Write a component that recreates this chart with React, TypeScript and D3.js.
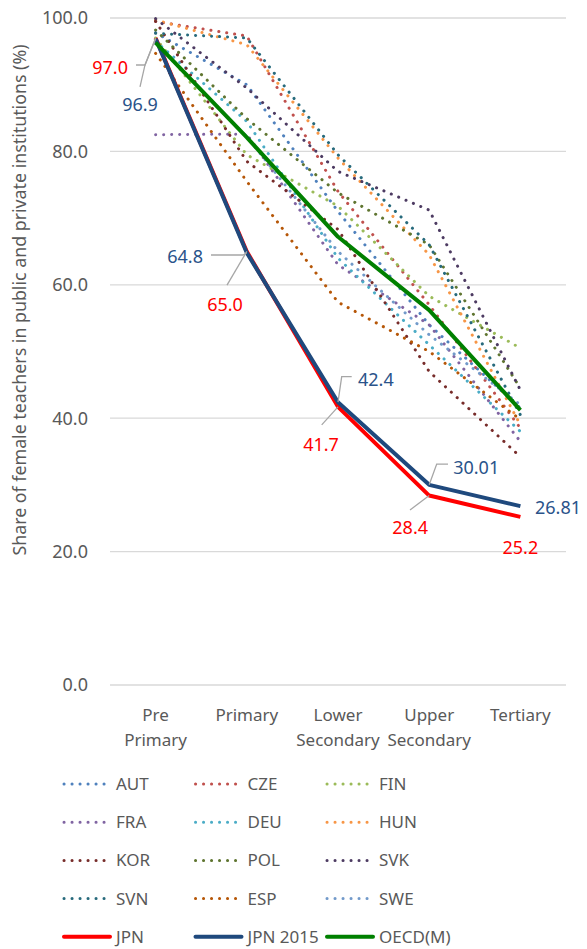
import React, { useRef, useEffect } from 'react';
import * as d3 from 'd3';

const categories = ['Pre Primary', 'Primary', 'Lower Secondary', 'Upper Secondary', 'Tertiary'];
const yTicks = [0, 20, 40, 60, 80, 100];

// share of female teachers (%)
const aut = [97.8, 90.0, 71.0, 54.0, 41.5];
const cze = [99.5, 97.3, 74.0, 57.0, 38.5];
const fin = [97.0, 79.5, 71.8, 58.3, 50.5];
const fra = [82.5, 82.6, 63.0, 54.0, 36.5];
const deu = [96.5, 84.5, 64.0, 51.0, 38.0];
const hun = [99.7, 96.0, 79.0, 64.5, 39.0];
const kor = [99.5, 78.5, 68.3, 47.0, 34.2];
const pol = [98.2, 84.9, 73.8, 66.0, 44.5];
const svk = [99.9, 89.5, 77.0, 71.2, 44.2];
const svn = [97.7, 97.0, 79.5, 66.0, 40.5];
const esp = [94.7, 75.5, 57.4, 50.0, 39.8];
const swe = [96.2, 82.2, 65.0, 52.5, 42.0];
const jpn = [97.0, 65.0, 41.7, 28.4, 25.2];
const jpn2015 = [96.9, 64.8, 42.4, 30.01, 26.81];
const oecd = [96.3, 82.1, 67.2, 56.2, 41.2];

const series = [
  { name: 'AUT', values: aut, color: '#4F81BD', dotted: true },
  { name: 'CZE', values: cze, color: '#C0504D', dotted: true },
  { name: 'FIN', values: fin, color: '#9BBB59', dotted: true },
  { name: 'FRA', values: fra, color: '#8064A2', dotted: true },
  { name: 'DEU', values: deu, color: '#4BACC6', dotted: true },
  { name: 'HUN', values: hun, color: '#F79646', dotted: true },
  { name: 'KOR', values: kor, color: '#772C2A', dotted: true },
  { name: 'POL', values: pol, color: '#5F7530', dotted: true },
  { name: 'SVK', values: svk, color: '#4D3B62', dotted: true },
  { name: 'SVN', values: svn, color: '#276A7C', dotted: true },
  { name: 'ESP', values: esp, color: '#B65708', dotted: true },
  { name: 'SWE', values: swe, color: '#729ACA', dotted: true },
  { name: 'JPN', values: jpn, color: '#FF0000', dotted: false },
  { name: 'JPN 2015', values: jpn2015, color: '#1F497D', dotted: false },
  { name: 'OECD(M)', values: oecd, color: '#008000', dotted: false },
];

// label placement relative to its point: text offset, anchor, leader path offsets
const jpnLabels = [
  { dx: -27.6, dy: 36, anchor: 'end', leader: [[-10.6, 27], [-19.6, 27]] },
  { dx: -21.8, dy: 59.6, anchor: 'middle', leader: [[-19.8, 33.6]] },
  { dx: -17, dy: 44, anchor: 'middle', leader: [[-16.3, 18]] },
  { dx: -19, dy: 38.4, anchor: 'middle', leader: [[-19.2, 14.4]] },
  { dx: 0, dy: 37, anchor: 'middle', leader: [] },
];
const jpn2015Labels = [
  { dx: -15.6, dy: 72, anchor: 'middle', leader: [[-10.6, 26.3], [-15.6, 48.3]] },
  { dx: -43.8, dy: 10, anchor: 'end', leader: [[-3.8, 2.2], [-35.8, 2.2]] },
  { dx: 20, dy: -16, anchor: 'start', leader: [[3.7, -25.5], [13.7, -25.5]] },
  { dx: 24, dy: -10.8, anchor: 'start', leader: [[7.5, -20.8], [18.8, -20.8]] },
  { dx: 14.6, dy: 8, anchor: 'start', leader: [] },
];

const FONT = '"Noto Sans", sans-serif';
const GREY = '#595959';

const App = () => {
  const ref = useRef(null);

  useEffect(() => {
    const svg = d3.select(ref.current);
    svg.selectAll('*').remove();

    const width = 587;
    const height = 949;
    svg.attr('width', width).attr('height', height);

    const x = d3.scaleBand().domain(categories).range([110, 566]);
    const y = d3.scaleLinear().domain([0, 100]).range([685, 18]);
    const cx = (i: number) => (x(categories[i]) as number) + x.bandwidth() / 2;

    // gridlines
    svg
      .append('g')
      .selectAll('line')
      .data(yTicks)
      .enter()
      .append('line')
      .attr('x1', 110)
      .attr('x2', 566)
      .attr('y1', (d) => y(d))
      .attr('y2', (d) => y(d))
      .attr('stroke', '#D9D9D9')
      .attr('stroke-width', 1.3);

    // y tick labels
    svg
      .append('g')
      .selectAll('text')
      .data(yTicks)
      .enter()
      .append('text')
      .text((d) => d.toFixed(1))
      .attr('x', 88)
      .attr('y', (d) => y(d))
      .attr('dy', '0.35em')
      .attr('text-anchor', 'end')
      .attr('font-size', 18)
      .attr('fill', GREY)
      .style('font-family', FONT);

    // y axis title
    svg
      .append('text')
      .text('Share of female teachers in public and private institutions (%)')
      .attr('transform', 'translate(26,300) rotate(-90)')
      .attr('text-anchor', 'middle')
      .attr('font-size', 17.8)
      .attr('fill', GREY)
      .style('font-family', FONT);

    // x labels (wrapped)
    const xl = svg
      .append('g')
      .selectAll('text')
      .data(categories)
      .enter()
      .append('text')
      .attr('text-anchor', 'middle')
      .attr('font-size', 17)
      .attr('fill', GREY)
      .style('font-family', FONT);
    xl.each(function (d, i) {
      d3.select(this)
        .selectAll('tspan')
        .data(d.split(' '))
        .enter()
        .append('tspan')
        .attr('x', cx(i))
        .attr('y', (_, j) => 721 + j * 25)
        .text((t) => t);
    });

    // lines
    const line = d3
      .line<number>()
      .x((_, i) => cx(i))
      .y((d) => y(d));

    svg
      .append('g')
      .selectAll('path')
      .data(series)
      .enter()
      .append('path')
      .attr('d', (s) => line(s.values))
      .attr('fill', 'none')
      .attr('stroke', (s) => s.color)
      .attr('stroke-width', (s) => (s.dotted ? 3 : 4))
      .attr('stroke-linecap', (s) => (s.dotted ? 'round' : 'butt'))
      .attr('stroke-linejoin', 'round')
      .attr('stroke-dasharray', (s) => (s.dotted ? '0.1 7.9' : null));

    // data labels with leader lines
    const addLabels = (vals: number[], layout: typeof jpnLabels, color: string, fmt: (v: number) => string) => {
      const g = svg.append('g');
      vals.forEach((v, i) => {
        const px = cx(i);
        const py = y(v);
        const L = layout[i];
        if (L.leader.length) {
          const pts: [number, number][] = [[px, py], ...L.leader.map(([a, b]) => [px + a, py + b] as [number, number])];
          g.append('path')
            .attr('d', d3.line()(pts))
            .attr('fill', 'none')
            .attr('stroke', '#A6A6A6')
            .attr('stroke-width', 1.3);
        }
        g.append('text')
          .text(fmt(v))
          .attr('x', px + L.dx)
          .attr('y', py + L.dy)
          .attr('text-anchor', L.anchor)
          .attr('font-size', 18)
          .attr('fill', color)
          .style('font-family', FONT);
      });
    };
    addLabels(jpn, jpnLabels, '#FF0000', (v) => v.toFixed(1));
    addLabels(jpn2015, jpn2015Labels, '#2A538A', (v) => String(v));

    // legend
    const legend = svg
      .append('g')
      .selectAll('g')
      .data(series)
      .enter()
      .append('g')
      .attr('transform', (_, i) => `translate(${63 + (i % 3) * 131.5},${784 + Math.floor(i / 3) * 38.2})`);
    legend
      .append('line')
      .attr('x1', 1)
      .attr('x2', (s) => (s.dotted ? 48 : 47))
      .attr('stroke', (s) => s.color)
      .attr('stroke-width', (s) => (s.dotted ? 3 : 4))
      .attr('stroke-linecap', 'round')
      .attr('stroke-dasharray', (s) => (s.dotted ? '0.1 7.9' : null));
    legend
      .append('text')
      .text((s) => s.name)
      .attr('x', 53)
      .attr('dy', '0.35em')
      .attr('font-size', 17)
      .attr('fill', GREY)
      .style('font-family', FONT);
  }, []);

  return <svg ref={ref} style={{ position: 'absolute', left: 0, top: 0 }} />;
};

export default App;
